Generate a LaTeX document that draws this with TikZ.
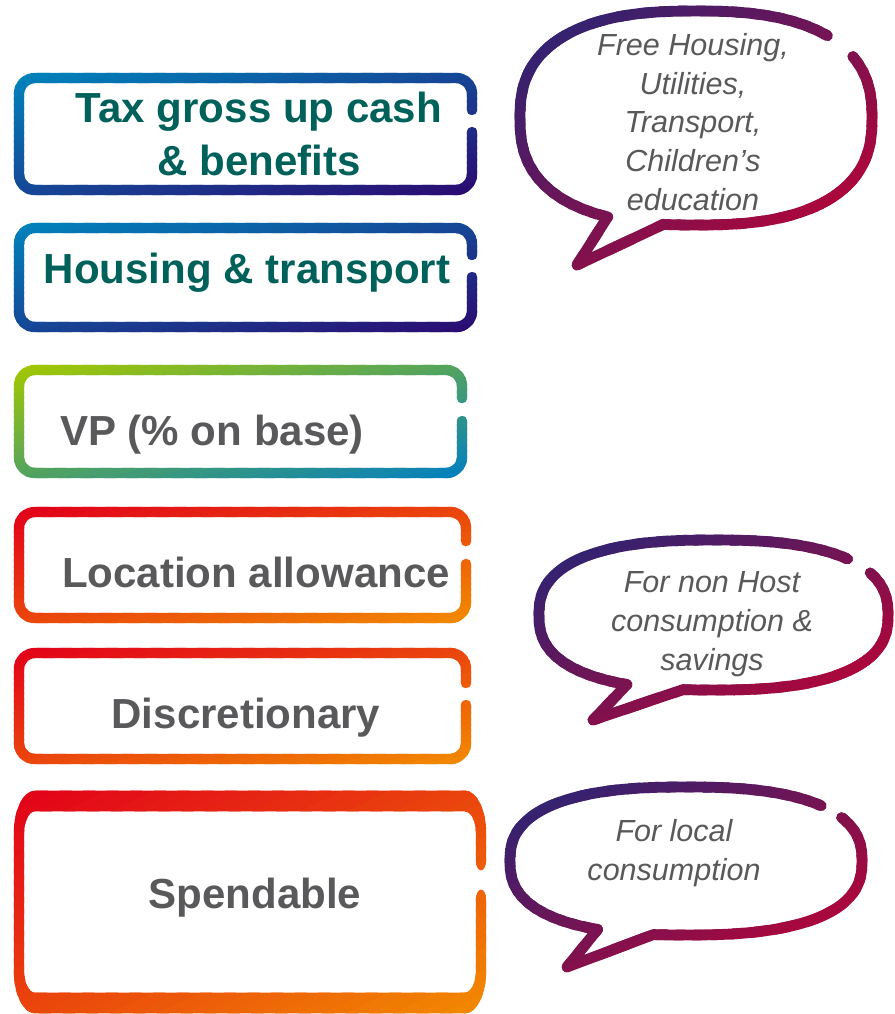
\documentclass[tikz,border=0pt]{standalone}
\usepackage{fontspec}
\setmainfont{Liberation Sans}
\definecolor{boxteal}{RGB}{0,96,90}
\definecolor{textgray}{RGB}{89,89,91}
\definecolor{blueA}{RGB}{0,132,188}
\definecolor{blueB}{RGB}{44,8,112}
\definecolor{greenA}{RGB}{164,200,0}
\definecolor{greenB}{RGB}{0,126,194}
\definecolor{redA}{RGB}{226,0,26}
\definecolor{redB}{RGB}{242,140,0}
\definecolor{bubA}{RGB}{34,38,120}
\definecolor{bubB}{RGB}{204,0,44}

\tikzset{
  boxline/.style={line width=0.26cm,line cap=round,line join=round,rounded corners=0.4cm},
  bubline/.style={line width=0.27cm,line cap=round,line join=round},
  boxtext/.style={anchor=base,font=\bfseries\fontsize{29.9}{37}\selectfont},
  bubtext/.style={anchor=base,align=center,text=textgray,font=\itshape\fontsize{21.7}{27.4}\selectfont}
}

% gradient stroke: x0, y0, w, h of the outline, start colour, end colour, style, path
\newcommand\gradline[8]{%
  \foreach \i in {0,...,39}{
    \pgfmathsetmacro\sa{\i/20}
    \pgfmathsetmacro\sb{(\i+1.5)/20}
    \pgfmathtruncatemacro\pct{(\i+0.5)*2.5}
    \colorlet{gc}{#6!\pct!#5}
    \begin{scope}
      \clip ({#1+(\sa+1)*#3},{#2-#4}) -- ({#1+(\sb+1)*#3},{#2-#4})
        -- ({#1+(\sb-2)*#3},{#2+2*#4}) -- ({#1+(\sa-2)*#3},{#2+2*#4}) -- cycle;
      \draw[#7,draw=gc] #8;
    \end{scope}
  }%
}

\begin{document}
\begin{tikzpicture}[x=0.025cm,y=-0.025cm,
  declare function={spx(\t)=cos(\t)*(abs(cos(\t))+0.0001)^(-0.2);
                    spy(\t)=sin(\t)*(abs(sin(\t))+0.0001)^(-0.2);}]
  \useasboundingbox (0,0) rectangle (895,1014);

  % boxes
  \gradline{14}{73}{463}{122}{blueA}{blueB}{boxline}{(472,132) -- (472,190) -- (19,190) -- (19,78) -- (472,78) -- (472,110)}
  \gradline{14}{223}{463}{109}{blueA}{blueB}{boxline}{(472,277) -- (472,327) -- (19,327) -- (19,228) -- (472,228) -- (472,255)}
  \gradline{14}{365}{453}{113}{greenA}{greenB}{boxline}{(462,421) -- (462,473) -- (19,473) -- (19,370) -- (462,370) -- (462,398)}
  \gradline{14}{507}{457}{116}{redA}{redB}{boxline}{(466,564) -- (466,618) -- (19,618) -- (19,512) -- (466,512) -- (466,541)}
  \gradline{14}{648}{457}{116}{redA}{redB}{boxline}{(466,705) -- (466,759) -- (19,759) -- (19,653) -- (466,653) -- (466,683)}
  \begin{scope}[transform canvas={yscale=2}]
    \gradline{14}{395}{472}{112}{redA}{redB}{boxline}{(481,450) -- (481,501.5) -- (19,501.5) -- (19,400.5) -- (481,400.5) -- (481,430)}
  \end{scope}

  % multi-line nodes sit on their last baseline
  \node[boxtext,text=boxteal,align=center] (tax) at (259,175) {Tax gross up cash\\\& benefits};
  \node[boxtext,text=boxteal] (housing) at (247,283) {Housing \& transport};
  \node[boxtext,text=textgray] (vp) at (212,445) {VP (\% on base)};
  \node[boxtext,text=textgray] (location) at (256,587) {Location allowance};
  \node[boxtext,text=textgray] (discr) at (246,728) {Discretionary};
  \node[boxtext,text=textgray] (spend) at (255,908) {Spendable};

  % speech bubbles
  \gradline{515}{6}{362}{266}{bubA}{bubB}{bubline}{plot[domain=-30:97,samples=60] ({696+176*spx(\x)},{118+107*spy(\x)}) -- (577,265) -- plot[domain=115:314,samples=90] ({696+176*spx(\x)},{118+107*spy(\x)})}
  \gradline{534}{535}{359}{190}{bubA}{bubB}{bubline}{plot[domain=-29:96.5,samples=60] ({713.5+174.5*spx(\x)},{615+75*spy(\x)}) -- (593,720) -- plot[domain=114.6:316,samples=90] ({713.5+174.5*spx(\x)},{615+75*spy(\x)})}
  \gradline{505}{782}{362}{190}{bubA}{bubB}{bubline}{plot[domain=-31:97,samples=60] ({686+176*spx(\x)},{861+74*spy(\x)}) -- (567,967) -- plot[domain=115:316,samples=90] ({686+176*spx(\x)},{861+74*spy(\x)})}

  \node[bubtext] (housingnote) at (693,210) {Free Housing,\\Utilities,\\Transport,\\Children’s\\education};
  \node[bubtext] (hostnote) at (712,670) {For non Host\\consumption \&\\savings};
  \node[bubtext] (localnote) at (674,880) {For local\\consumption};
\end{tikzpicture}
\end{document}
